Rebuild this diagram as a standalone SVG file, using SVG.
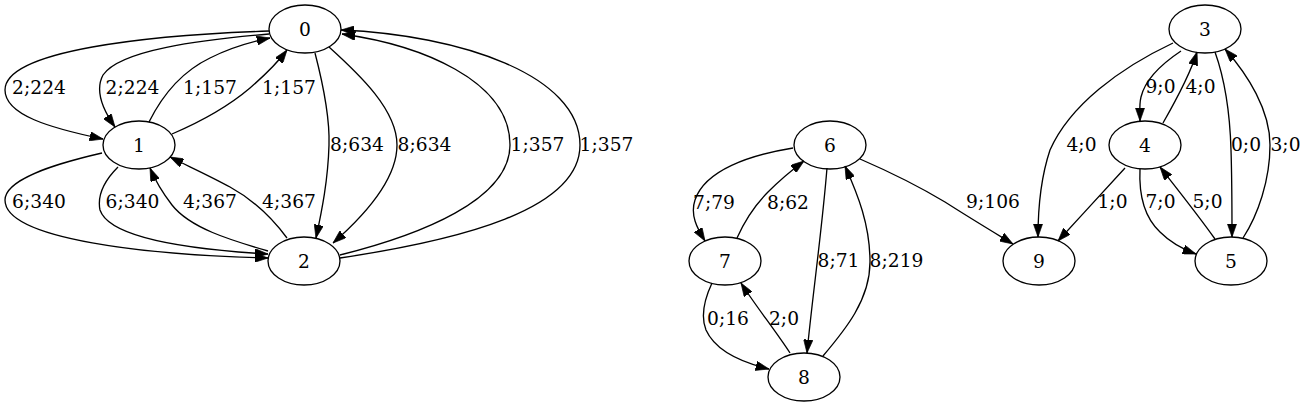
<svg xmlns="http://www.w3.org/2000/svg" width="1306" height="407" viewBox="0 0 1306 407">
<style>
.n ellipse{fill:none;stroke:#000;stroke-width:1.33}
text{font-family:"DejaVu Serif","Liberation Serif",serif;font-size:18.67px;fill:#000;text-anchor:middle}
.e path{fill:none;stroke:#000;stroke-width:1.33;marker-end:url(#ah)}
</style>
<defs>
<marker id="ah" viewBox="0 0 10 7" refX="10" refY="3.5" markerWidth="13.3" markerHeight="9.33" markerUnits="userSpaceOnUse" orient="auto">
<path d="M0,0 L10,3.5 L0,7 Z" fill="#000" stroke="#000" stroke-width="0.5"/>
</marker>
</defs>
<rect width="1306" height="407" fill="#fff"/>
<g id="edges" class="e">
<path d="M269,31 C150,35 5,50 5,90 C5,115 50,128 103,139"/>
<path d="M269,34 C200,40 120,50 103,75 C95,90 103,110 115,127"/>
<path d="M149,122 C165,90 185,70 210,58 C230,48 250,42 270,38"/>
<path d="M172,134 C200,122 230,105 250,88 C265,75 278,62 287,50"/>
<path d="M315,53 C322,80 330,115 329,145 C328,180 322,210 316,238"/>
<path d="M329,47 C360,75 397,110 397,145 C397,180 365,215 333,243"/>
<path d="M340,255 C420,235 510,200 510,145 C510,80 420,45 342,34"/>
<path d="M340,258 C460,240 580,210 580,145 C580,75 460,35 341,30"/>
<path d="M102,153 C50,165 5,180 5,200 C5,240 150,255 268,258"/>
<path d="M118,167 C105,180 97,195 100,210 C110,240 200,250 268,254"/>
<path d="M268,251 C230,240 190,228 172,205 C162,192 155,180 150,168"/>
<path d="M287,238 C270,215 250,198 230,187 C210,176 190,167 170,157"/>
<path d="M793,148 C750,155 705,170 695,200 C690,215 697,228 705,241"/>
<path d="M737,238 C745,220 755,205 768,192 C780,180 792,170 804,161"/>
<path d="M827,168 C822,230 812,300 807,353"/>
<path d="M823,356 C845,330 870,300 870,262 C870,225 858,195 845,166"/>
<path d="M712,283 C705,298 700,315 706,330 C715,350 740,362 769,369"/>
<path d="M790,353 C775,330 755,305 741,283"/>
<path d="M860,159 C890,172 920,187 945,202 C970,218 990,230 1013,244"/>
<path d="M1173,43 C1120,68 1070,105 1050,150 C1040,180 1038,210 1038,237"/>
<path d="M1181,51 C1160,65 1145,80 1141,97 C1139,105 1140,112 1140,121"/>
<path d="M1163,123 C1175,102 1190,75 1197,52"/>
<path d="M1215,52 C1225,80 1230,115 1231,150 C1232,180 1232,210 1232,237"/>
<path d="M1243,238 C1258,215 1270,180 1270,145 C1270,110 1248,75 1225,49"/>
<path d="M1125,168 C1105,190 1080,217 1058,241"/>
<path d="M1140,169 C1139,190 1142,215 1160,232 C1170,242 1182,249 1196,254"/>
<path d="M1215,239 C1198,215 1178,190 1160,167"/>
</g>
<g id="edge-labels">
<text x="39" y="93.5">2;224</text>
<text x="132.5" y="93.5">2;224</text>
<text x="210" y="93.5">1;157</text>
<text x="289" y="93.5">1;157</text>
<text x="357" y="150.5">8;634</text>
<text x="424.5" y="150.5">8;634</text>
<text x="537.5" y="150.5">1;357</text>
<text x="606.5" y="150.5">1;357</text>
<text x="39" y="208">6;340</text>
<text x="132.5" y="208">6;340</text>
<text x="210" y="208">4;367</text>
<text x="289" y="208">4;367</text>
<text x="714" y="209">7;79</text>
<text x="788" y="209">8;62</text>
<text x="838.5" y="266.5">8;71</text>
<text x="896.5" y="266.5">8;219</text>
<text x="728" y="325">0;16</text>
<text x="784" y="325">2;0</text>
<text x="993" y="208">9;106</text>
<text x="1081.5" y="150.5">4;0</text>
<text x="1160.5" y="93">9;0</text>
<text x="1200.5" y="93">4;0</text>
<text x="1246" y="150.5">0;0</text>
<text x="1285.5" y="150.5">3;0</text>
<text x="1112.5" y="208">1;0</text>
<text x="1160.5" y="208">7;0</text>
<text x="1207.5" y="208">5;0</text>
</g>
<g id="node0" class="n"><ellipse cx="305" cy="29" rx="36" ry="24"/><text x="305" y="35.5">0</text></g>
<g id="node1" class="n"><ellipse cx="139" cy="145" rx="36" ry="24"/><text x="139" y="151.5">1</text></g>
<g id="node2" class="n"><ellipse cx="304" cy="261" rx="36" ry="24"/><text x="304" y="267.5">2</text></g>
<g id="node3" class="n"><ellipse cx="1205" cy="29" rx="36" ry="24"/><text x="1205" y="35.5">3</text></g>
<g id="node4" class="n"><ellipse cx="1145" cy="145" rx="36" ry="24"/><text x="1145" y="151.5">4</text></g>
<g id="node5" class="n"><ellipse cx="1231" cy="261" rx="36" ry="24"/><text x="1231" y="267.5">5</text></g>
<g id="node6" class="n"><ellipse cx="830" cy="145" rx="36" ry="24"/><text x="830" y="151.5">6</text></g>
<g id="node7" class="n"><ellipse cx="725" cy="261" rx="36" ry="24"/><text x="725" y="267.5">7</text></g>
<g id="node8" class="n"><ellipse cx="804" cy="377" rx="36" ry="24"/><text x="804" y="383.5">8</text></g>
<g id="node9" class="n"><ellipse cx="1039" cy="261" rx="36" ry="24"/><text x="1039" y="267.5">9</text></g>
</svg>
